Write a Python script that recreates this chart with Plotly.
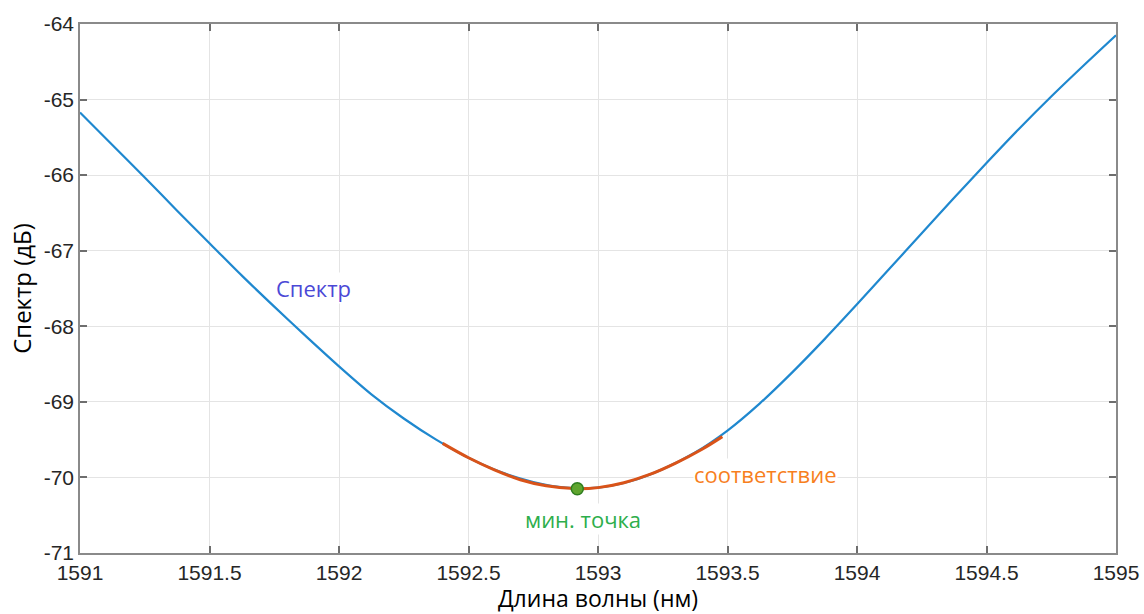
import plotly.graph_objects as go

# Measured spectrum (wavelength in nm, level in dB)
wavelength_nm = [1591.000, 1591.125, 1591.250, 1591.375, 1591.500, 1591.625,
                 1591.750, 1591.875, 1592.000, 1592.125, 1592.250, 1592.375,
                 1592.500, 1592.625, 1592.750, 1592.875, 1593.000, 1593.125,
                 1593.250, 1593.375, 1593.500, 1593.625, 1593.750, 1593.875,
                 1594.000, 1594.125, 1594.250, 1594.375, 1594.500, 1594.625,
                 1594.750, 1594.875, 1595.000]
spectrum_db = [-65.17, -65.60, -66.03, -66.47, -66.90, -67.33,
               -67.74, -68.14, -68.53, -68.90, -69.22, -69.50,
               -69.74, -69.93, -70.06, -70.135, -70.135, -70.05,
               -69.89, -69.67, -69.38, -69.02, -68.61, -68.17,
               -67.71, -67.24, -66.77, -66.30, -65.84, -65.39,
               -64.96, -64.55, -64.15]

# Local fit around the dip
fit_nm = [1592.40, 1592.50, 1592.60, 1592.70, 1592.80, 1592.92, 1593.00,
          1593.10, 1593.20, 1593.30, 1593.40, 1593.48]
fit_db = [-69.55, -69.74, -69.90, -70.03, -70.11, -70.15, -70.135,
          -70.07, -69.96, -69.81, -69.63, -69.46]

# Minimum point of the fit
min_nm = [1592.92]
min_db = [-70.15]

x_ticks = [1591, 1591.5, 1592, 1592.5, 1593, 1593.5, 1594, 1594.5, 1595]
y_ticks = [-71, -70, -69, -68, -67, -66, -65, -64]

fig = go.Figure()
fig.add_trace(go.Scatter(x=wavelength_nm, y=spectrum_db, mode="lines",
                         line=dict(color="#1F88CF", width=2.2, shape="spline",
                                   smoothing=0.8),
                         showlegend=False))
fig.add_trace(go.Scatter(x=fit_nm, y=fit_db, mode="lines",
                         line=dict(color="#D95319", width=3, shape="spline"),
                         showlegend=False))
fig.add_trace(go.Scatter(x=min_nm, y=min_db, mode="markers",
                         marker=dict(color="#5FA52E", size=12,
                                     line=dict(color="#2E7D1E", width=1.5)),
                         showlegend=False))

label_font = "Open Sans, Noto Sans, sans-serif"
fig.add_annotation(x=1591.903, y=-67.49, text="Спектр", showarrow=False,
                   font=dict(family=label_font, size=22, color="#4B48D6"),
                   bgcolor="white", borderpad=0)
fig.add_annotation(x=1593.645, y=-69.955, text="соответствие", showarrow=False,
                   font=dict(family=label_font, size=22, color="#F77F1E"),
                   bgcolor="white", borderpad=0)
fig.add_annotation(x=1592.942, y=-70.55, text="мин. точка", showarrow=False,
                   font=dict(family=label_font, size=22, color="#2DAE4B"),
                   bgcolor="white", borderpad=0)

axis_common = dict(showline=True, linecolor="#8A8A8A", linewidth=1.5,
                   mirror="ticks", ticks="inside", ticklen=7, tickwidth=1.5,
                   tickcolor="#6E6E6E", showgrid=True, gridcolor="#E4E4E4",
                   gridwidth=1, zeroline=False, automargin=False,
                   tickfont=dict(family="Liberation Sans, Arial, sans-serif",
                                 size=21, color="#262626"))

fig.update_xaxes(range=[1591, 1595], tickvals=x_ticks,
                 ticktext=[f"{v:g}" for v in x_ticks],
                 title=dict(text="Длина волны (нм)", standoff=10,
                            font=dict(family=label_font, size=23, color="black")),
                 **axis_common)
fig.update_yaxes(range=[-71, -64], tickvals=y_ticks,
                 ticktext=[f"{v:g}" for v in y_ticks],
                 title=dict(text="Спектр (дБ)", standoff=5,
                            font=dict(family=label_font, size=24, color="black")),
                 **axis_common)

fig.update_layout(width=1144, height=614, plot_bgcolor="white",
                  paper_bgcolor="white",
                  margin=dict(l=80, r=28, t=24, b=61))

fig.write_html("out.html")
